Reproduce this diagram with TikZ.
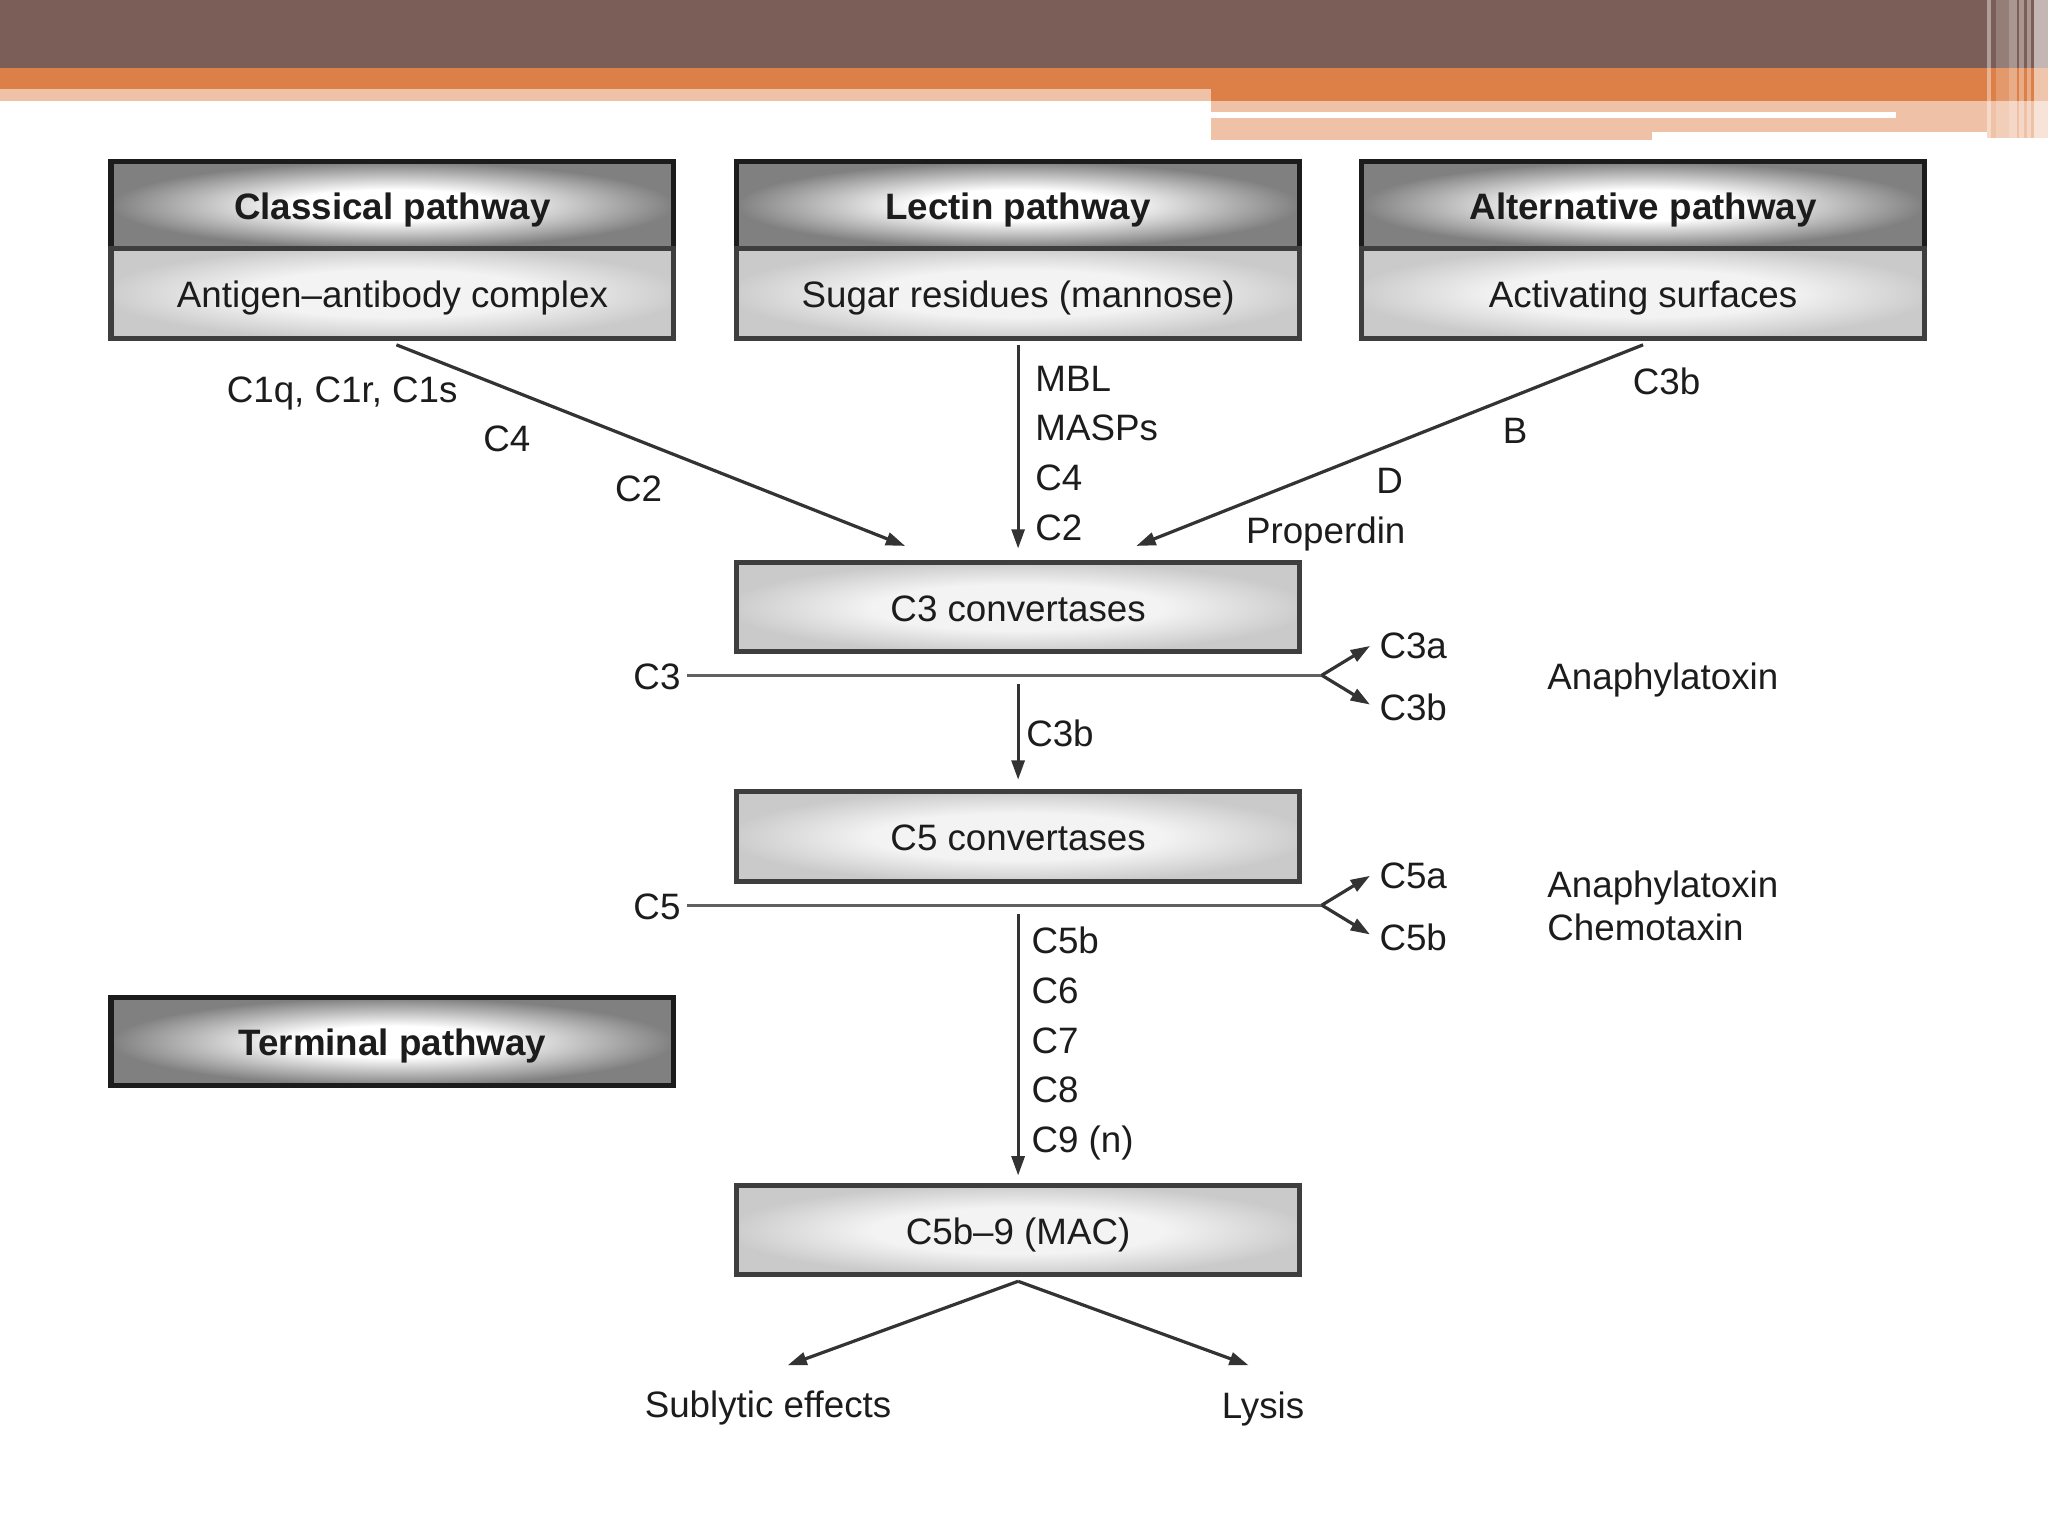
\documentclass[tikz,border=0pt]{standalone}
\usepackage{fontspec}
\setmainfont{Liberation Sans}
\usetikzlibrary{positioning}
\usetikzlibrary{arrows.meta}
\definecolor{slide-brown}{HTML}{7B5E57}
\definecolor{slide-orange}{HTML}{DD8047}
\definecolor{slide-peach}{HTML}{EFC2A8}
\definecolor{head-gray}{HTML}{808080}
\definecolor{body-gray}{HTML}{CACACA}
\definecolor{body-light}{HTML}{F3F3F3}
\definecolor{ink}{HTML}{1C1C1C}
\newlength{\basispx}
\setlength{\basispx}{0.01cm}
\pgfdeclareradialshading{headshade}{\pgfpoint{0bp}{0bp}}{color(0bp)=(white); color(9bp)=(white); color(25bp)=(head-gray); color(50bp)=(head-gray)}
\pgfdeclareradialshading{bodyshade}{\pgfpoint{0bp}{0bp}}{color(0bp)=(body-light); color(13bp)=(body-light); color(26bp)=(body-gray); color(50bp)=(body-gray)}

\begin{document}
\begin{tikzpicture}[line width=0.7pt, >={Triangle[length=4.2pt,width=2.8pt]},
    font=\fontsize{8}{9.6}\selectfont,
    pathhead/.style={shading=headshade, draw=ink, line width=1.1pt, outer sep=0pt, inner sep=0pt,
        minimum width=431\basispx, minimum height=66\basispx, text=ink, text height=0.62em, text depth=0pt,
        font=\fontsize{8}{9.6}\selectfont\bfseries},
    pathbody/.style={shading=bodyshade, draw=ink!85, line width=1.1pt, outer sep=0pt, inner sep=0pt,
        minimum width=431\basispx, minimum height=69\basispx, text=ink, text height=0.62em, text depth=0pt},
    tag/.style={text=ink, inner sep=1pt, text height=0.62em, text depth=0pt},
    stack/.style={text=ink, inner sep=1pt, anchor=west, align=left, font=\fontsize{8}{10.8}\selectfont},
    flow/.style={->, color=ink!90},
    split/.style={color=ink!70}]
    \useasboundingbox (0,0) rectangle (1568\basispx,-1176\basispx);

    % slide banner
    \fill[slide-brown] (0,0) rectangle (1568\basispx,-52\basispx);
    \fill[slide-orange] (0,-52\basispx) rectangle (1568\basispx,-68\basispx);
    \fill[slide-orange] (927\basispx,-68\basispx) rectangle (1568\basispx,-77\basispx);
    \fill[slide-peach] (0,-68\basispx) rectangle (927\basispx,-77\basispx);
    \fill[slide-peach] (927\basispx,-77\basispx) rectangle (1568\basispx,-101\basispx);
    \fill[slide-peach] (927\basispx,-101\basispx) rectangle (1265\basispx,-107\basispx);
    \fill[slide-peach] (1521\basispx,-101\basispx) rectangle (1568\basispx,-106\basispx);
    \fill[white] (927\basispx,-86\basispx) rectangle (1452\basispx,-90\basispx);
    \foreach \xa/\xb/\op in {1521/1524/0.4, 1528/1538/0.2, 1538/1544/0.35, 1546/1550/0.35, 1552/1555/0.35, 1557/1568/0.55}
        \fill[white, opacity=\op] (\xa\basispx,0) rectangle (\xb\basispx,-106\basispx);

    % pathway boxes
    \draw (300.5\basispx,-157\basispx) node[pathhead] (ClassicalHead) {Classical pathway};
    \node[pathbody, below=0pt of ClassicalHead] (ClassicalSource) {Antigen--antibody complex};
    \draw (779.5\basispx,-157\basispx) node[pathhead] (LectinHead) {Lectin pathway};
    \node[pathbody, below=0pt of LectinHead] (LectinSource) {Sugar residues (mannose)};
    \draw (1258\basispx,-157\basispx) node[pathhead] (AlternativeHead) {Alternative pathway};
    \node[pathbody, below=0pt of AlternativeHead] (AlternativeSource) {Activating surfaces};

    \draw (779.5\basispx,-465\basispx) node[pathbody, minimum height=68\basispx] (Convertase3) {C3 convertases};
    \draw (779.5\basispx,-640.5\basispx) node[pathbody] (Convertase5) {C5 convertases};
    \draw (300.5\basispx,-797.5\basispx) node[pathhead, minimum height=67\basispx] (TerminalHead) {Terminal pathway};
    \draw (779.5\basispx,-942\basispx) node[pathbody, minimum height=68\basispx] (Mac) {C5b--9 (MAC)};

    % activation arrows
    \coordinate (ClassicalEnd) at (693\basispx,-418\basispx);
    \coordinate (AlternativeEnd) at (870\basispx,-418\basispx);
    \draw[flow] ([shift={(3\basispx,-5\basispx)}]ClassicalSource.south) -- (ClassicalEnd);
    \draw[flow, shorten <=5\basispx, shorten >=11\basispx] (LectinSource) -- (Convertase3);
    \draw[flow] ([yshift=-5\basispx]AlternativeSource.south) -- (AlternativeEnd);

    \draw (262\basispx,-297\basispx) node[tag] (ClassicalC1) {C1q, C1r, C1s};
    \draw (388\basispx,-335\basispx) node[tag] (ClassicalC4) {C4};
    \draw (489\basispx,-373\basispx) node[tag] (ClassicalC2) {C2};
    \draw (788\basispx,-347\basispx) node[stack] (LectinSteps) {MBL\\MASPs\\C4\\C2};
    \draw (1276\basispx,-291\basispx) node[tag] (AlternativeC3b) {C3b};
    \draw (1160\basispx,-329\basispx) node[tag] (AlternativeB) {B};
    \draw (1064\basispx,-367\basispx) node[tag] (AlternativeD) {D};
    \draw (1015\basispx,-405\basispx) node[tag] (AlternativeP) {Properdin};

    % C3 cleavage
    \draw (503\basispx,-517\basispx) node[tag] (C3In) {C3};
    \coordinate (C3Fork) at (1012\basispx,-517\basispx);
    \draw[split] (C3In) -- (C3Fork);
    \draw (1082\basispx,-493\basispx) node[tag] (C3aOut) {C3a};
    \draw (1082\basispx,-541\basispx) node[tag] (C3bOut) {C3b};
    \draw[flow, shorten >=3\basispx] (C3Fork) -- (C3aOut.west);
    \draw[flow, shorten >=3\basispx] (C3Fork) -- (C3bOut.west);
    \draw (1180\basispx,-517\basispx) node[tag, anchor=west] (C3Effect) {Anaphylatoxin};
    \draw[flow, shorten >=9\basispx] ([yshift=-25\basispx]Convertase3.south) -- (Convertase5.north);
    \draw (781\basispx,-561\basispx) node[tag, anchor=west] (C3bDown) {C3b};

    % C5 cleavage
    \draw (503\basispx,-693\basispx) node[tag] (C5In) {C5};
    \coordinate (C5Fork) at (1012\basispx,-693\basispx);
    \draw[split] (C5In) -- (C5Fork);
    \draw (1082\basispx,-669\basispx) node[tag] (C5aOut) {C5a};
    \draw (1082\basispx,-717\basispx) node[tag] (C5bOut) {C5b};
    \draw[flow, shorten >=3\basispx] (C5Fork) -- (C5aOut.west);
    \draw[flow, shorten >=3\basispx] (C5Fork) -- (C5bOut.west);
    \draw (1180\basispx,-693.5\basispx) node[stack, font=\fontsize{8}{9.4}\selectfont] (C5Effect) {Anaphylatoxin\\Chemotaxin};
    \draw[flow, shorten >=8\basispx] ([yshift=-25\basispx]Convertase5.south) -- (Mac.north);
    \draw (785\basispx,-799\basispx) node[stack] (TerminalSteps) {C5b\\C6\\C7\\C8\\C9 (n)};

    % MAC outcomes
    \draw (588\basispx,-1074\basispx) node[tag] (Sublytic) {Sublytic effects};
    \draw (967\basispx,-1075\basispx) node[tag] (Lysis) {Lysis};
    \draw[flow] ([yshift=-5\basispx]Mac.south) -- ([shift={(15\basispx,13\basispx)}]Sublytic.north);
    \draw[flow] ([yshift=-5\basispx]Mac.south) -- ([shift={(-11\basispx,14\basispx)}]Lysis.north);
\end{tikzpicture}
\end{document}
